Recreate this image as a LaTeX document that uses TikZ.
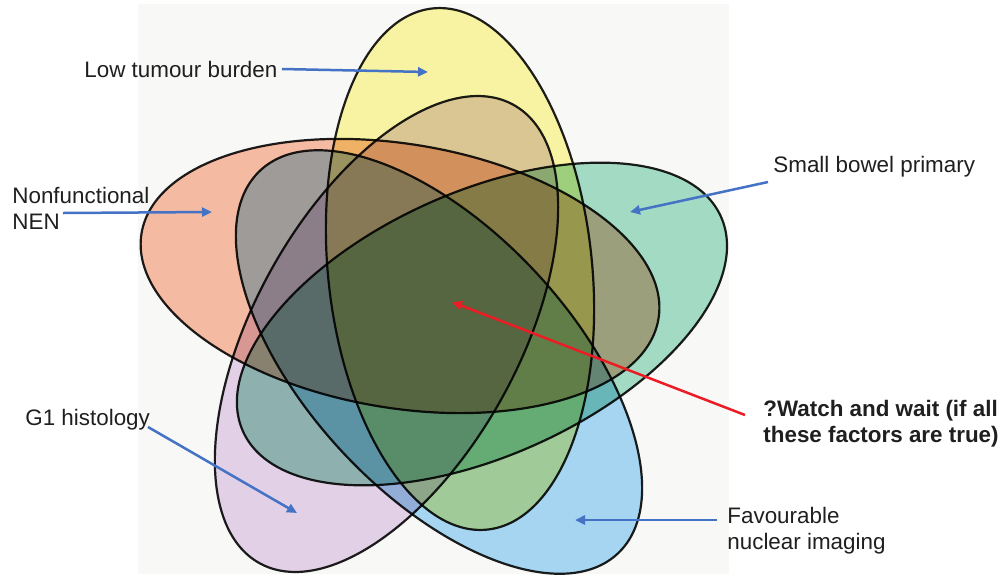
\documentclass[tikz,border=0pt]{standalone}
\usepackage{fontspec}
\setmainfont{Liberation Sans}
\usetikzlibrary{arrows.meta}
\definecolor{cyel}{RGB}{248,243,162}
\definecolor{cpink}{RGB}{245,186,162}
\definecolor{cteal}{RGB}{162,218,196}
\definecolor{cpurp}{RGB}{225,208,230}
\definecolor{cblue}{RGB}{165,213,240}
\definecolor{bggray}{RGB}{248,248,247}
\definecolor{arrblue}{RGB}{68,114,196}
\definecolor{arrred}{RGB}{235,28,36}
\definecolor{outl}{RGB}{30,30,30}
\begin{document}
\begin{tikzpicture}[x=0.5pt,y=-0.5pt,
  lbl/.style={font=\fontsize{11.2}{13}\selectfont, inner sep=0pt, align=left, text=black!88},
  lblb/.style={font=\fontsize{11.2}{13}\selectfont\bfseries, inner sep=0pt, align=left, text=black!88},
  setshape/.style={draw=outl, line width=1.1pt},
  ptr/.style={draw=arrblue, line width=1.25pt, -{Triangle[length=5pt,width=4.5pt]}},
  rptr/.style={draw=arrred, line width=1.25pt, -{Triangle[length=5pt,width=4.5pt]}}]
\useasboundingbox (0,0) rectangle (1001,574);
\fill[bggray] (138,4) rectangle (729,574);
\coordinate (cY) at (460,269);
\coordinate (cP) at (400,276);
\coordinate (cT) at (482,324);
\coordinate (cU) at (386.5,334);
\coordinate (cB) at (439,362);
\begin{scope}[blend group=multiply]
  \path[setshape, fill=cyel, rotate around={96:(cY)}] (cY) ellipse [x radius=131pt, y radius=66pt];
  \path[setshape, fill=cpink, rotate around={170.6:(cP)}] (cP) ellipse [x radius=131pt, y radius=66pt];
  \path[setshape, fill=cteal, rotate around={24.2:(cT)}] (cT) ellipse [x radius=131pt, y radius=66pt];
  \path[setshape, fill=cpurp, rotate around={241:(cU)}] (cU) ellipse [x radius=131pt, y radius=66pt];
  \path[setshape, fill=cblue, rotate around={-47:(cB)}] (cB) ellipse [x radius=131pt, y radius=66pt];
\end{scope}
\node[lbl, anchor=base west] (low) at (84,77) {Low tumour burden};
\node[lbl, anchor=base west] (nonf) at (12,229) {Nonfunctional\\NEN};
\node[lbl, anchor=base west] (sb) at (773,172) {Small bowel primary};
\node[lbl, anchor=base west] (g1) at (25,425) {G1 histology};
\node[lblb, anchor=base west] (ww) at (763,442) {?Watch and wait (if all\\these factors are true)};
\node[lbl, anchor=base west] (fav) at (727,549) {Favourable\\nuclear imaging};
\coordinate (lowT) at (282,69);  \coordinate (lowH) at (428,72);
\coordinate (nonfT) at (63,213); \coordinate (nonfH) at (212,212);
\coordinate (sbT) at (768,182);  \coordinate (sbH) at (630,212);
\coordinate (g1T) at (148,427);  \coordinate (g1H) at (297,513);
\coordinate (favT) at (717,520); \coordinate (favH) at (575,520);
\coordinate (wwT) at (745,415);  \coordinate (wwH) at (452,302);
\draw[ptr] (lowT) -- (lowH);
\draw[ptr] (nonfT) -- (nonfH);
\draw[ptr] (sbT) -- (sbH);
\draw[ptr] (g1T) -- (g1H);
\draw[ptr] (favT) -- (favH);
\draw[rptr] (wwT) -- (wwH);
\end{tikzpicture}
\end{document}
